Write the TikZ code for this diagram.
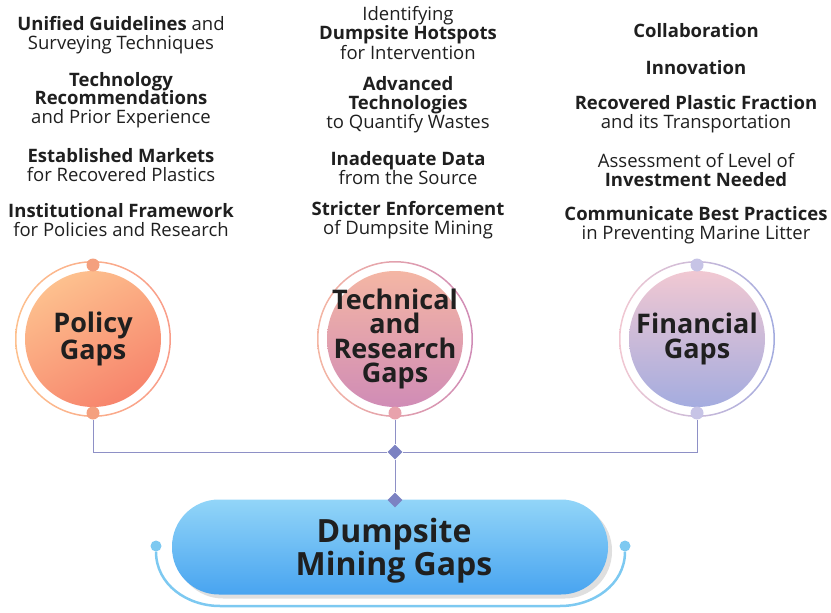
\documentclass[tikz,border=0pt]{standalone}
\usepackage{fontspec}
\setmainfont{Open Sans}
\usetikzlibrary{shapes.geometric,shadows}

\definecolor{linkc}{HTML}{8E90C6}
\definecolor{jointc}{HTML}{7C82C2}
\definecolor{polA}{HTML}{FDC08E}
\definecolor{polB}{HTML}{F7846C}
\definecolor{polDot}{HTML}{F4A07E}
\definecolor{tecA}{HTML}{F4B6A4}
\definecolor{tecB}{HTML}{D08CB6}
\definecolor{tecDot}{HTML}{E8A2AC}
\definecolor{finA}{HTML}{F1C8D2}
\definecolor{finB}{HTML}{A4ACDF}
\definecolor{finDot}{HTML}{C7C4E6}
\definecolor{pillA}{HTML}{92D5F8}
\definecolor{pillB}{HTML}{48A4F0}
\definecolor{arcc}{HTML}{7DC9F1}

\begin{document}
\begin{tikzpicture}[x=1pt,y=-1pt,
	item/.style={ align=center, inner sep=0pt, text=black!88, font=\fontsize{18.5}{18.5}\selectfont },
	gapcore/.style={ circle, inner sep=0pt, minimum size=136pt },
	gaptext/.style={ align=center, inner sep=0pt, text=black!88, font=\fontsize{27}{25.5}\selectfont\bfseries },
	dot/.style={ circle, inner sep=0pt, minimum size=13pt },
	joint/.style={ diamond, fill=jointc, inner sep=0pt, minimum size=15pt },
	link/.style={ draw=linkc, line width=1pt }
]
\useasboundingbox (0,0) rectangle (831,613);

% left column
\node at (121,35) (p1) [item] {{\bfseries Unified Guidelines} and\\Surveying Techniques};
\node at (121,100) (p2) [item] {{\bfseries Technology}\\{\bfseries Recommendations}\\and Prior Experience};
\node at (121,165) (p3) [item] {{\bfseries Established Markets}\\for Recovered Plastics};
\node at (121,220) (p4) [item] {{\bfseries Institutional Framework}\\for Policies and Research};

% middle column
\node at (408,33) (t1) [item] {Identifying\\{\bfseries Dumpsite Hotspots}\\for Intervention};
\node at (408,105) (t2) [item] {{\bfseries Advanced}\\{\bfseries Technologies}\\to Quantify Wastes};
\node at (408,168) (t3) [item] {{\bfseries Inadequate Data}\\from the Source};
\node at (408,220) (t4) [item] {{\bfseries Stricter Enforcement}\\of Dumpsite Mining};

% right column
\node at (696,31) (f1) [item] {\bfseries Collaboration};
\node at (696,68) (f2) [item] {\bfseries Innovation};
\node at (696,114) (f3) [item] {{\bfseries Recovered Plastic Fraction}\\and its Transportation};
\node at (696,170) (f4) [item] {Assessment of Level of\\{\bfseries Investment Needed}};
\node at (696,225) (f5) [item] {{\bfseries Communicate Best Practices}\\in Preventing Marine Litter};

% gap circles
\shade[left color=polA, right color=polB!80, even odd rule] (93,339) circle (78pt) (93,339) circle (76.5pt);
\node at (93,339) (pol) [gapcore, top color=polA, bottom color=polB, shading angle=30] {};
\node at (pol) (poltext) [gaptext] {Policy\\Gaps};
\node at (93,265) (poltop) [dot, fill=polDot] {};
\node at (93,413) (polbot) [dot, fill=polDot] {};

\shade[left color=tecA, right color=tecB, even odd rule] (395,339) circle (78pt) (395,339) circle (76.5pt);
\node at (395,339) (tec) [gapcore, top color=tecA, bottom color=tecB] {};
\node at (tec) (tectext) [gaptext, font=\fontsize{27}{24.5}\selectfont\bfseries] {Technical\\and\\Research\\Gaps};
\node at (395,413) (tecbot) [dot, fill=tecDot] {};

\shade[left color=finA, right color=finB, even odd rule] (697,339) circle (78pt) (697,339) circle (76.5pt);
\node at (697,339) (fin) [gapcore, top color=finA, bottom color=finB] {};
\node at (fin) (fintext) [gaptext] {Financial\\Gaps};
\node at (697,265) (fintop) [dot, fill=finDot] {};
\node at (697,413) (finbot) [dot, fill=finDot] {};

% main pill
\node at (390,547) (main) [rectangle, rounded corners=47pt, minimum width=436pt, minimum height=95pt,
	top color=pillA, bottom color=pillB,
	drop shadow={opacity=0.25, shadow xshift=4pt, shadow yshift=-4pt}] {};
\node at (394,551) (maintext) [align=center, inner sep=0pt, text=black!88,
	font=\fontsize{32}{33}\selectfont\bfseries] {Dumpsite\\Mining Gaps};

\node at (395,452) (jt) [joint] {};
\node at (395,500) (jb) [joint] {};

\draw[link] (polbot) |- (jt) -| (finbot);
\draw[link] (tecbot) -- (jt) -- (jb);

% bottom arc
\node at (156,546) (al) [dot, fill=arcc, minimum size=11pt] {};
\node at (625,546) (ar) [dot, fill=arcc, minimum size=11pt] {};
\coordinate (a1) at (220,606);
\coordinate (a2) at (560,606);
\draw[arcc, line width=2.5pt] (al) to[out=270,in=180] (a1) -- (a2) to[out=0,in=270] (ar);

\end{tikzpicture}
\end{document}
